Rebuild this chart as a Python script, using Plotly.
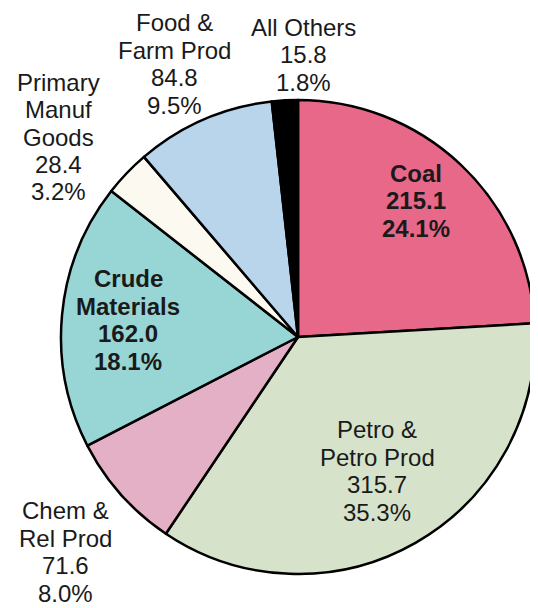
import plotly.graph_objects as go

labels = ["Coal", "Petro &<br>Petro Prod", "Chem &<br>Rel Prod", "Crude<br>Materials",
          "Primary<br>Manuf<br>Goods", "Food &<br>Farm Prod", "All Others"]
values = [215.1, 315.7, 71.6, 162.0, 28.4, 84.8, 15.8]
pcts = [24.1, 35.3, 8.0, 18.1, 3.2, 9.5, 1.8]
colors = ["#E8688A", "#D6E3CA", "#E4B0C5", "#98D6D6", "#FCFAF0", "#B8D5EB", "#000000"]
bold = [True, False, False, True, False, False, False]

# label block centres in page pixels (x from left, y from top)
label_pos = [(416, 201), (377, 471), (65, 552), (128, 320), (58, 137), (174, 64), (303, 55)]

W, H = 538, 608
off = 8  # page body margin
cx, cy, r = 298 - off, 337 - off, 237
lh = 27.5

fig = go.Figure(go.Pie(
    labels=labels, values=values, sort=False, direction="clockwise", rotation=0,
    marker=dict(colors=colors, line=dict(color="#000000", width=2.5)),
    textinfo="none", hoverinfo="label+value",
    domain=dict(x=[(cx - r) / W, (cx + r) / W], y=[(H - cy - r) / H, (H - cy + r) / H]),
    showlegend=False,
))

for lab, v, p, b, (x, y) in zip(labels, values, pcts, bold, label_pos):
    lines = lab.split("<br>") + [f"{v:.1f}", f"{p:.1f}%"]
    y0 = y - off - lh * (len(lines) - 1) / 2
    for i, ln in enumerate(lines):
        txt = f"<b>{ln}</b>" if b else ln
        fig.add_annotation(x=(x - off) / W, y=1 - (y0 + i * lh) / H, xref="paper", yref="paper",
                           text=txt, showarrow=False, xanchor="center", yanchor="middle",
                           font=dict(family="Liberation Sans, Arial", size=24, color="#1a1a1a"))

fig.update_layout(width=W, height=H, margin=dict(l=0, r=0, t=0, b=0),
                  paper_bgcolor="white", plot_bgcolor="white")
fig.write_html("out.html")
